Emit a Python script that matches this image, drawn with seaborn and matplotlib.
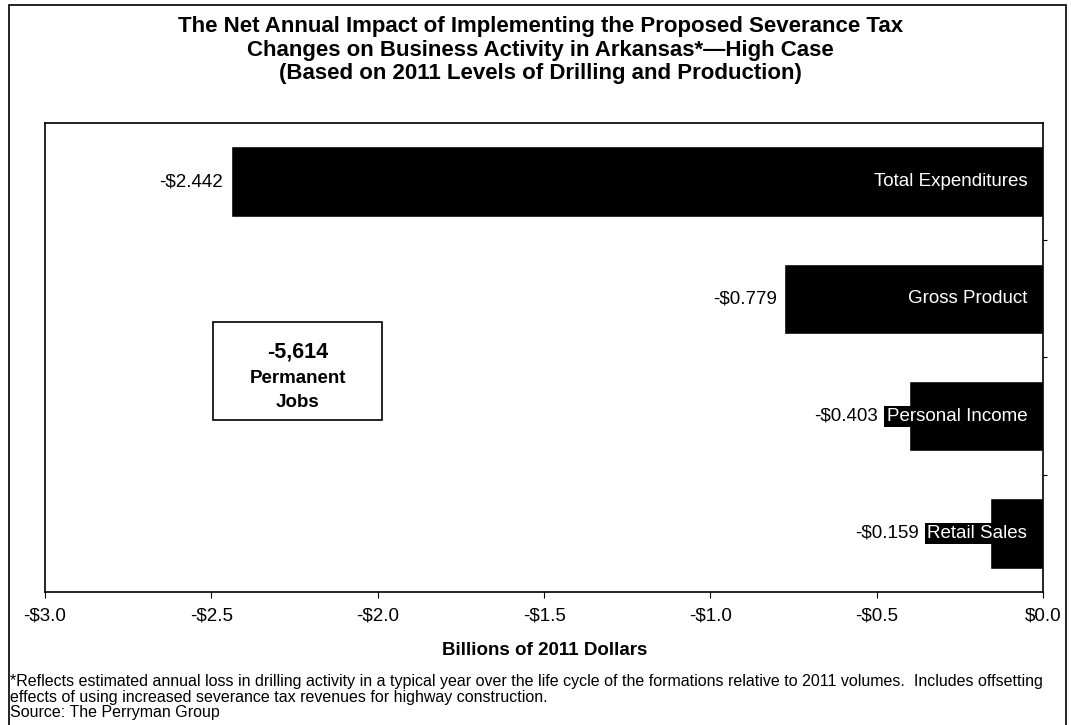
import matplotlib
matplotlib.use("Agg")
import matplotlib.pyplot as plt
import seaborn as sns
import pandas as pd
from matplotlib.patches import Rectangle

categories = ["Total Expenditures", "Gross Product", "Personal Income", "Retail Sales"]
values = [-2.442, -0.779, -0.403, -0.159]
xticks = [-3.0, -2.5, -2.0, -1.5, -1.0, -0.5, 0.0]
xtick_labels = ["-$3.0", "-$2.5", "-$2.0", "-$1.5", "-$1.0", "-$0.5", "$0.0"]

title = ("The Net Annual Impact of Implementing the Proposed Severance Tax\n"
         "Changes on Business Activity in Arkansas*\u2014High Case\n"
         "(Based on 2011 Levels of Drilling and Production)")
xlabel = "Billions of 2011 Dollars"
footnote = ("*Reflects estimated annual loss in drilling activity in a typical year over the life cycle of the formations relative to 2011 volumes.  Includes offsetting\n"
            "effects of using increased severance tax revenues for highway construction.\n"
            "Source: The Perryman Group")
jobs_text = ["-5,614", "Permanent", "Jobs"]

sns.set_theme(style="white")
plt.rcParams['font.family'] = ['Liberation Sans', 'DejaVu Sans']
plt.rcParams['text.color'] = 'black'
plt.rcParams['axes.labelcolor'] = 'black'
plt.rcParams['xtick.color'] = 'black'
plt.rcParams['ytick.color'] = 'black'

df = pd.DataFrame({"category": categories, "value": values})

fig = plt.figure(figsize=(10.71, 7.25), dpi=100)
ax = fig.add_axes([0.042, 0.1834, 0.932, 0.647])

sns.barplot(data=df, x="value", y="category", color="black", saturation=1,
            width=0.6, orient="h", ax=ax)

ax.set_xlim(-3.0, 0.0)
ax.set_ylim(3.5, -0.5)
ax.set_xticks(xticks)
ax.set_xticklabels(xtick_labels, fontsize=13.5)
ax.set_ylabel("")
ax.set_xlabel("")
ax.set_yticks([0.5, 1.5, 2.5])
ax.set_yticklabels([])
ax.yaxis.tick_right()
ax.tick_params(axis="y", direction="out", length=3, width=0.8, right=True, left=False)
ax.tick_params(axis="x", direction="out", length=4, width=0.8, bottom=True, pad=7)
for s in ax.spines.values():
    s.set_color("black")
    s.set_linewidth(1.2)

fig.text(0.509, 0.103, xlabel, ha="center", va="center", fontsize=13.5, fontweight="bold")

fig.canvas.draw()
renderer = fig.canvas.get_renderer()
inv = ax.transData.inverted()
for i, (cat, v) in enumerate(zip(categories, values)):
    t = ax.text(-0.048, i, cat, color="white", fontsize=13.5, ha="right", va="center",
                bbox=dict(facecolor="black", edgecolor="none", pad=1.5))
    bb = t.get_window_extent(renderer=renderer)
    left_data = inv.transform((bb.x0, bb.y0))[0]
    start = min(v, left_data - 0.004)
    ax.text(start - 0.022, i, f"-${abs(v):.3f}", color="black", fontsize=13.5,
            ha="right", va="center")

# jobs box
ax.add_patch(Rectangle((0.168, 0.367), 0.170, 0.209, transform=ax.transAxes,
                       facecolor="white", edgecolor="black", linewidth=1.2))
ax.text(0.253, 0.512, jobs_text[0], transform=ax.transAxes, ha="center", va="center",
        fontsize=15.5, fontweight="bold")
ax.text(0.253, 0.456, jobs_text[1], transform=ax.transAxes, ha="center", va="center",
        fontsize=13.5, fontweight="bold")
ax.text(0.253, 0.403, jobs_text[2], transform=ax.transAxes, ha="center", va="center",
        fontsize=13.5, fontweight="bold")

fig.text(0.505, 0.931, title, ha="center", va="center", fontsize=16, fontweight="bold",
         linespacing=1.15)
fig.text(0.009, 0.0386, footnote, ha="left", va="center", fontsize=11.5, linespacing=1.07)

fig.add_artist(Rectangle((0.008, -0.02), 0.987, 1.013, transform=fig.transFigure,
                         facecolor="none", edgecolor="black", linewidth=1.2, clip_on=False))

fig.savefig("out.png", dpi=100, facecolor="white")
